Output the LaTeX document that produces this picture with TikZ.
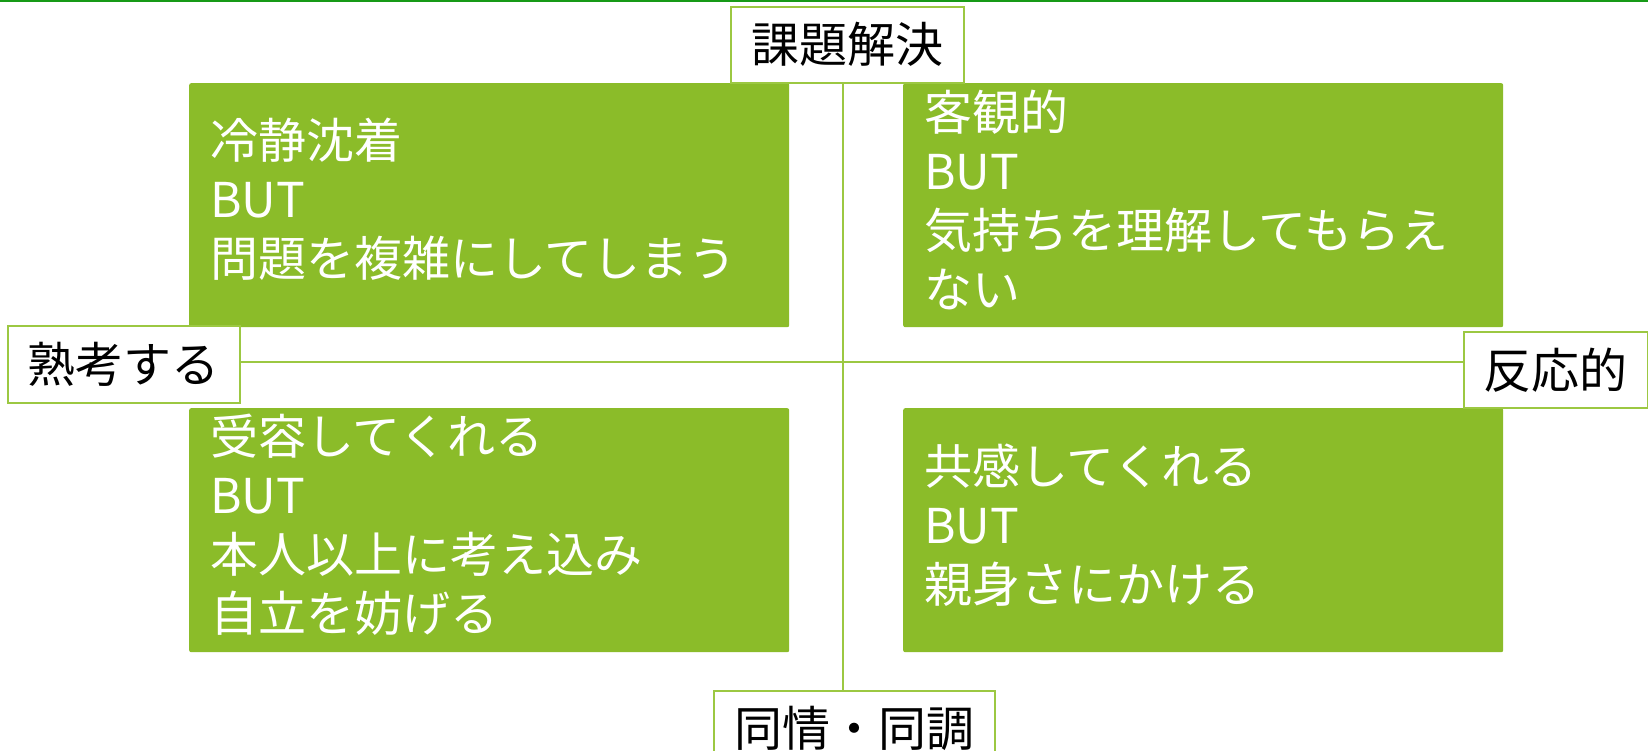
\documentclass[tikz,border=0pt]{standalone}
\usepackage{fontspec}
\setmainfont{Noto Sans CJK JP}
\definecolor{boxgreen}{HTML}{8BBC29}
\definecolor{edgegreen}{HTML}{9CC842}
\definecolor{topgreen}{HTML}{179A17}
\tikzset{
  quad/.style={fill=boxgreen, draw=none, rounded corners=2pt, minimum width=600pt, minimum height=244pt,
    inner sep=0pt, anchor=north west},
  quadtext/.style={text width=560pt, inner sep=0pt, align=left, text=white, anchor=west,
    font=\fontsize{48}{59}\selectfont},
  axislabel/.style={draw=edgegreen, line width=1.6pt, fill=white, anchor=north west, inner sep=0pt,
    font=\fontsize{48}{56}\selectfont, text=black},
  axisline/.style={draw=edgegreen, line width=1.8pt}
}
\begin{document}
\begin{tikzpicture}[x=1pt,y=-1pt]
\useasboundingbox (0,0) rectangle (1648,751);
\clip (0,0) rectangle (1648,751);
\fill[white] (0,0) rectangle (1648,751);
\coordinate (tl) at (0,1);
\coordinate (tr) at (1648,1);
\draw[topgreen, line width=2.6pt] (tl) -- (tr);
\coordinate (center) at (843,362);
% quadrant boxes
\node[quad] (q1) at (189,83) {};
\node[quad] (q2) at (903,83) {};
\node[quad] (q3) at (189,408) {};
\node[quad] (q4) at (903,408) {};
\node[quadtext, xshift=21pt, yshift=6pt] (q1t) at (q1.west) {冷静沈着\\BUT\\問題を複雑にしてしまう};
\node[quadtext, xshift=21pt, yshift=5pt] (q2t) at (q2.west) {客観的\\BUT\\気持ちを理解してもらえ\\ない};
\node[quadtext, xshift=21pt, yshift=5pt] (q3t) at (q3.west) {受容してくれる\\BUT\\本人以上に考え込み\\自立を妨げる};
\node[quadtext, xshift=21pt, yshift=5pt] (q4t) at (q4.west) {共感してくれる\\BUT\\親身さにかける};
% axis labels
\node[axislabel, minimum width=233pt, minimum height=76pt] (top) at (730,6) {課題解決};
\node[axislabel, minimum width=232pt, minimum height=77pt] (left) at (7,325) {熟考する};
\node[axislabel, minimum width=184pt, minimum height=76pt] (right) at (1463,331) {反応的};
\node[axislabel, minimum width=281pt, minimum height=76pt] (bottom) at (713,690) {\raisebox{-6pt}{同情・同調}};
% axes
\draw[axisline] (top.south -| center) -- (bottom.north -| center);
\draw[axisline] (left.east |- center) -- (right.west |- center);
\end{tikzpicture}
\end{document}
